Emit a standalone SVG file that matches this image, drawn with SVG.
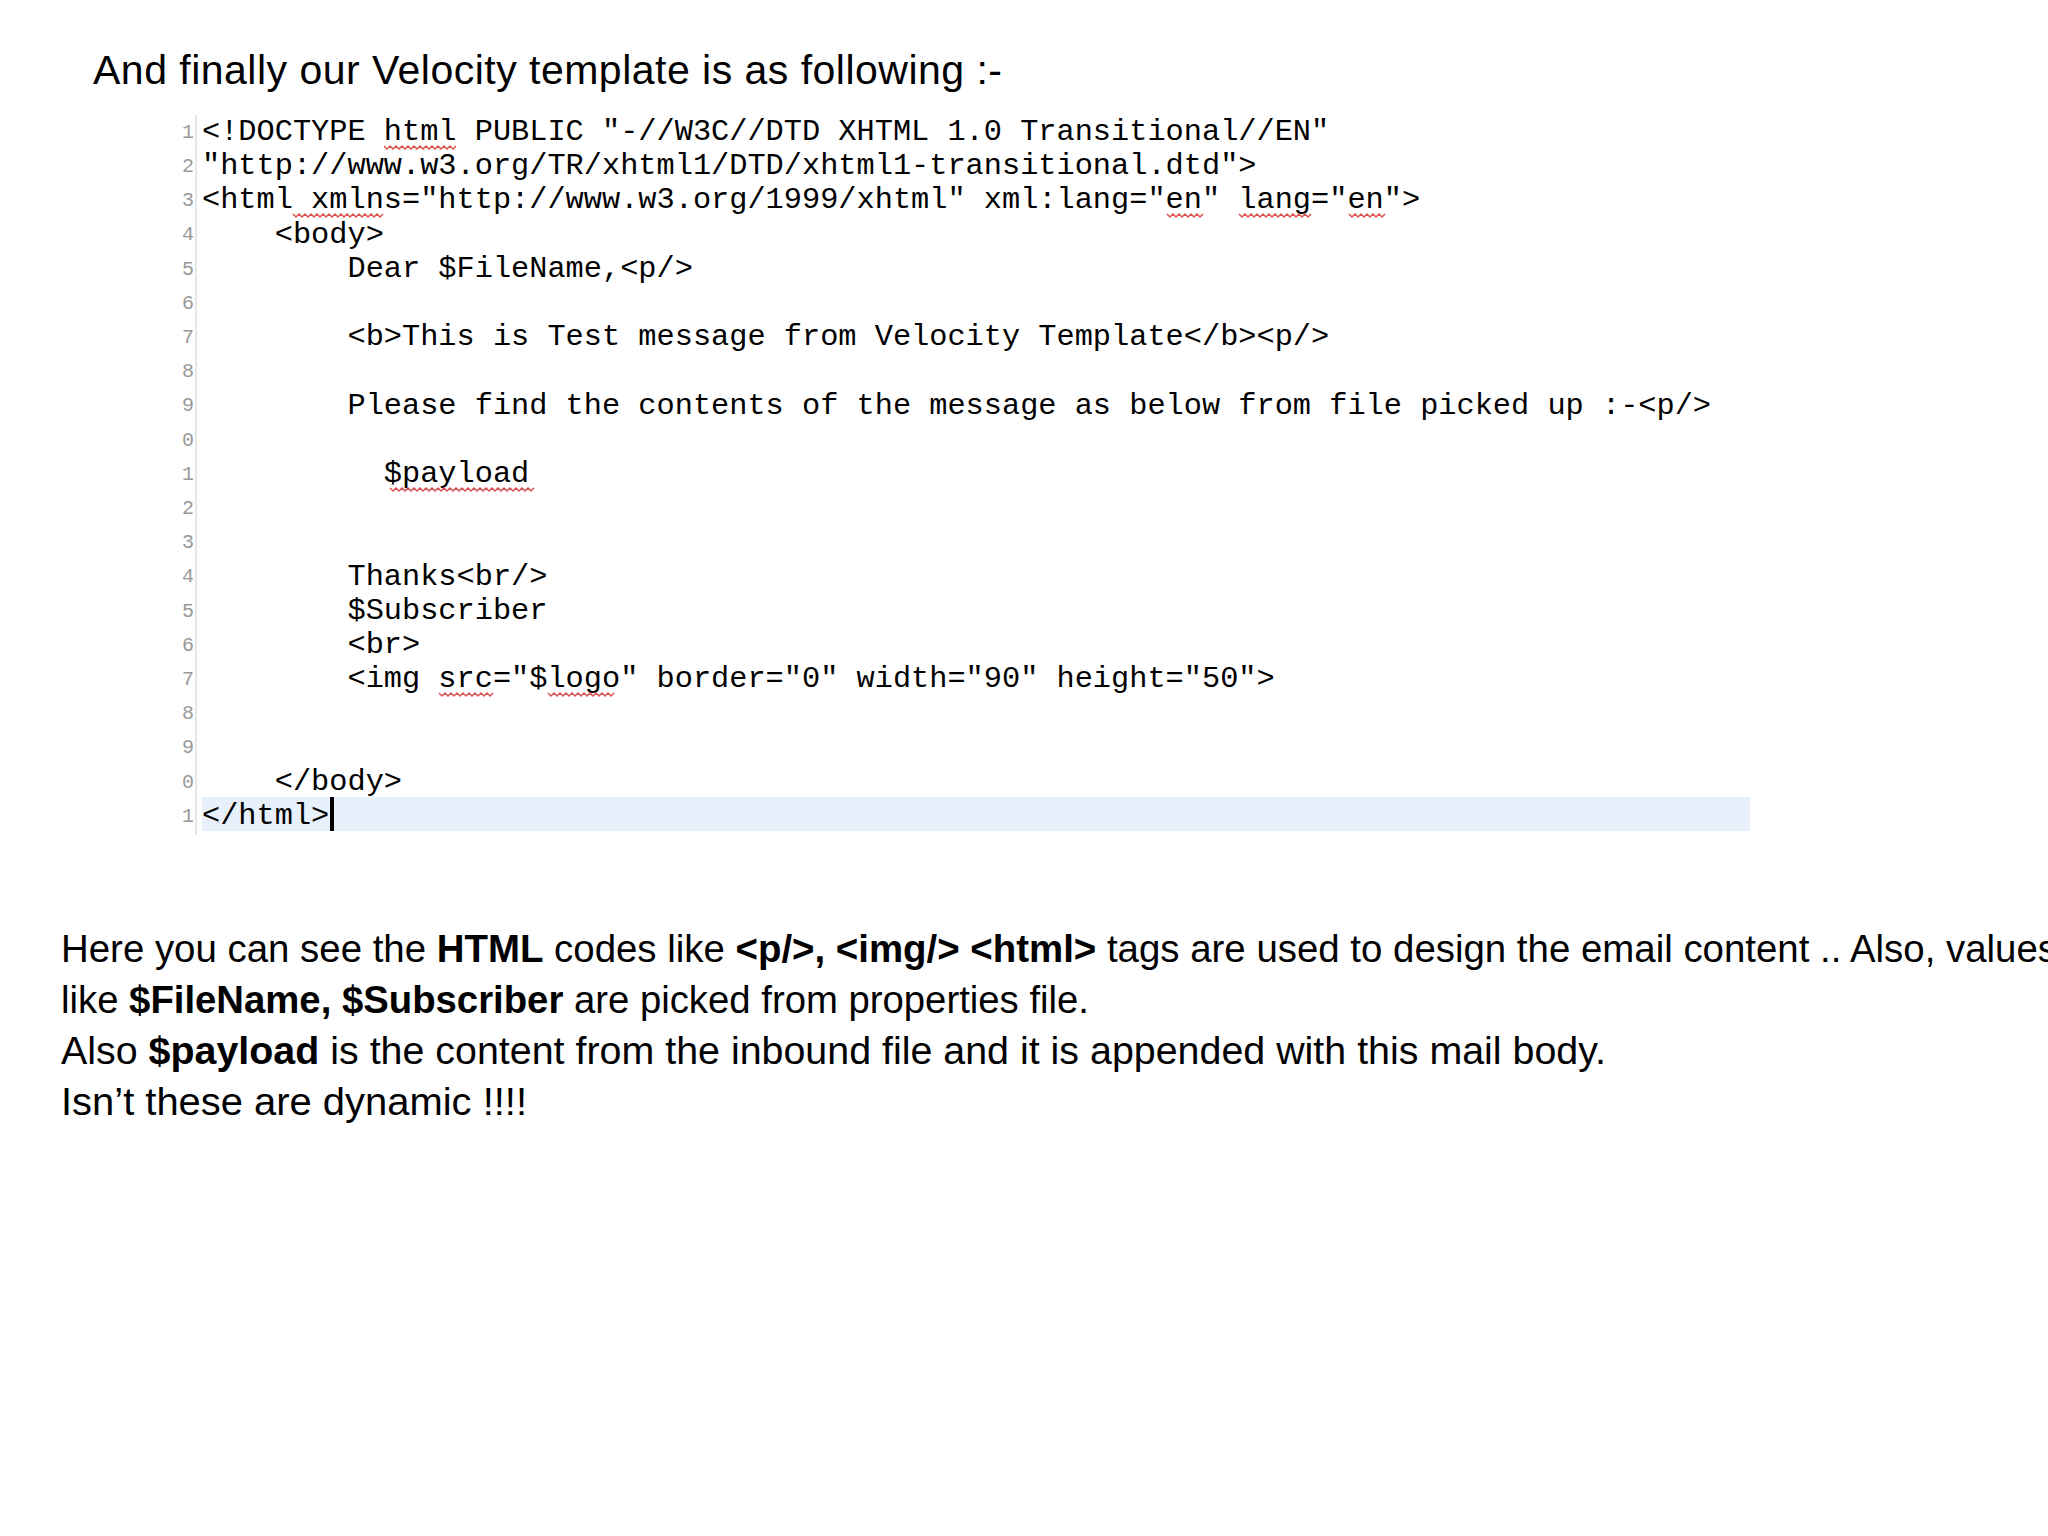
<svg xmlns="http://www.w3.org/2000/svg" width="2048" height="1536" viewBox="0 0 2048 1536">
<defs>
<style>
.t{font-family:"Liberation Sans",Arial,sans-serif;fill:#000}
.c{font-family:"Liberation Mono","DejaVu Sans Mono",monospace;font-size:30.3px;fill:#000;white-space:pre}
.n{font-family:"Liberation Mono",monospace;font-size:20px;fill:#999}
.sq{fill:none;stroke:#d9534f;stroke-width:1.5}
.b{font-weight:bold}
</style>
</defs>
<rect width="2048" height="1536" fill="#fff"/>
<text class="t" x="93" y="84" font-size="41" textLength="909">And finally our Velocity template is as following :-</text>
<g id="code">
<rect x="202" y="797" width="1548" height="34" fill="#e8f0fc"/>
<line x1="196" y1="115" x2="196" y2="835" stroke="#e6e6e6" stroke-width="2"/>
<g class="n">
<text x="182" y="138">1</text><text x="182" y="172">2</text><text x="182" y="206">3</text><text x="182" y="240">4</text><text x="182" y="275">5</text><text x="182" y="309">6</text><text x="182" y="343">7</text><text x="182" y="377">8</text><text x="182" y="411">9</text><text x="182" y="446">0</text><text x="182" y="480">1</text><text x="182" y="514">2</text><text x="182" y="548">3</text><text x="182" y="582">4</text><text x="182" y="617">5</text><text x="182" y="651">6</text><text x="182" y="685">7</text><text x="182" y="719">8</text><text x="182" y="753">9</text><text x="182" y="788">0</text><text x="182" y="822">1</text>
</g>
<text class="c" x="202" y="140">&lt;!DOCTYPE html PUBLIC "-//W3C//DTD XHTML 1.0 Transitional//EN"</text>
<text class="c" x="202" y="174">"http://www.w3.org/TR/xhtml1/DTD/xhtml1-transitional.dtd"&gt;</text>
<text class="c" x="202" y="208">&lt;html xmlns="http://www.w3.org/1999/xhtml" xml:lang="en" lang="en"&gt;</text>
<text class="c" x="202" y="243">    &lt;body&gt;</text>
<text class="c" x="202" y="277">        Dear $FileName,&lt;p/&gt;</text>
<text class="c" x="202" y="345">        &lt;b&gt;This is Test message from Velocity Template&lt;/b&gt;&lt;p/&gt;</text>
<text class="c" x="202" y="414">        Please find the contents of the message as below from file picked up :-&lt;p/&gt;</text>
<text class="c" x="202" y="482">          $payload</text>
<text class="c" x="202" y="585">        Thanks&lt;br/&gt;</text>
<text class="c" x="202" y="619">        $Subscriber</text>
<text class="c" x="202" y="653">        &lt;br&gt;</text>
<text class="c" x="202" y="687">        &lt;img src="$logo" border="0" width="90" height="50"&gt;</text>
<text class="c" x="202" y="790">    &lt;/body&gt;</text>
<text class="c" x="202" y="824">&lt;/html&gt;</text>
<rect x="330" y="797" width="4" height="34" fill="#000"/>
<g class="sq">
<path d="M384 146 l3 3 l3 -3 l3 3 l3 -3 l3 3 l3 -3 l3 3 l3 -3 l3 3 l3 -3 l3 3 l3 -3 l3 3 l3 -3 l3 3 l3 -3 l3 3 l3 -3 l3 3 l3 -3 l3 3 l3 -3 l3 3 l3 -3"/>
<path d="M293 214 l3 3 l3 -3 l3 3 l3 -3 l3 3 l3 -3 l3 3 l3 -3 l3 3 l3 -3 l3 3 l3 -3 l3 3 l3 -3 l3 3 l3 -3 l3 3 l3 -3 l3 3 l3 -3 l3 3 l3 -3 l3 3 l3 -3 l3 3 l3 -3 l3 3 l3 -3 l3 3 l3 -3"/>
<path d="M1167 214 l3 3 l3 -3 l3 3 l3 -3 l3 3 l3 -3 l3 3 l3 -3 l3 3 l3 -3 l3 3 l3 -3"/>
<path d="M1239 214 l3 3 l3 -3 l3 3 l3 -3 l3 3 l3 -3 l3 3 l3 -3 l3 3 l3 -3 l3 3 l3 -3 l3 3 l3 -3 l3 3 l3 -3 l3 3 l3 -3 l3 3 l3 -3 l3 3 l3 -3 l3 3 l3 -3"/>
<path d="M1349 214 l3 3 l3 -3 l3 3 l3 -3 l3 3 l3 -3 l3 3 l3 -3 l3 3 l3 -3 l3 3 l3 -3"/>
<path d="M390 488 l3 3 l3 -3 l3 3 l3 -3 l3 3 l3 -3 l3 3 l3 -3 l3 3 l3 -3 l3 3 l3 -3 l3 3 l3 -3 l3 3 l3 -3 l3 3 l3 -3 l3 3 l3 -3 l3 3 l3 -3 l3 3 l3 -3 l3 3 l3 -3 l3 3 l3 -3 l3 3 l3 -3 l3 3 l3 -3 l3 3 l3 -3 l3 3 l3 -3 l3 3 l3 -3 l3 3 l3 -3 l3 3 l3 -3 l3 3 l3 -3 l3 3 l3 -3 l3 3 l3 -3"/>
<path d="M439 693 l3 3 l3 -3 l3 3 l3 -3 l3 3 l3 -3 l3 3 l3 -3 l3 3 l3 -3 l3 3 l3 -3 l3 3 l3 -3 l3 3 l3 -3 l3 3 l3 -3"/>
<path d="M548 693 l3 3 l3 -3 l3 3 l3 -3 l3 3 l3 -3 l3 3 l3 -3 l3 3 l3 -3 l3 3 l3 -3 l3 3 l3 -3 l3 3 l3 -3 l3 3 l3 -3 l3 3 l3 -3 l3 3 l3 -3"/>
</g>
</g>
<g id="body" class="t" font-size="38">
<text x="61" y="962" textLength="1996" lengthAdjust="spacingAndGlyphs">Here you can see the <tspan class="b">HTML</tspan> codes like <tspan class="b">&lt;p/&gt;, &lt;img/&gt; &lt;html&gt;</tspan> tags are used to design the email content .. Also, values</text>
<text x="61" y="1013" textLength="1028" lengthAdjust="spacingAndGlyphs">like <tspan class="b">$FileName, $Subscriber</tspan> are picked from properties file.</text>
<text x="61" y="1064" textLength="1545" lengthAdjust="spacingAndGlyphs">Also <tspan class="b">$payload</tspan> is the content from the inbound file and it is appended with this mail body.</text>
<text x="61" y="1115" textLength="466" lengthAdjust="spacingAndGlyphs">Isn’t these are dynamic !!!!</text>
</g>
</svg>
